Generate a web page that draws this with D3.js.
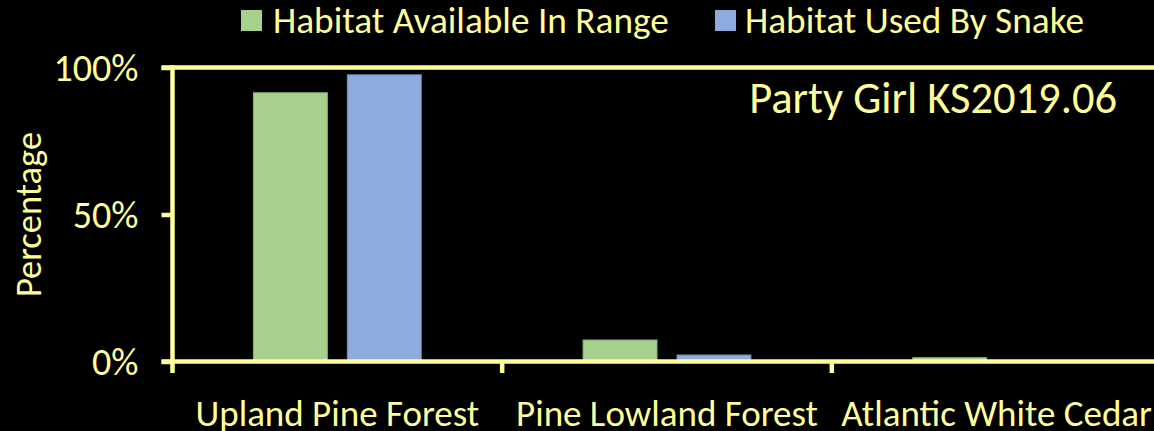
<!DOCTYPE html>
<html>
<head>
<meta charset="utf-8">
<script src="https://cdn.jsdelivr.net/npm/d3@7"></script>
<style>
  html, body { margin: 0; padding: 0; background: #000; }
  svg { display: block; }
  text { font-family: Carlito, Calibri, Lato, "Open Sans", sans-serif; fill: #FFFF99; }
</style>
</head>
<body>
<svg id="chart" width="1154" height="431"></svg>
<script>
// Habitat composition for one tracked snake
const categories = ["Upland Pine Forest", "Pine Lowland Forest", "Atlantic White Cedar"];
const seriesNames = ["Habitat Available In Range", "Habitat Used By Snake"];
const availableInRange = [0.914, 0.073, 0.013];
const usedBySnake = [0.975, 0.022, 0.0];
const yTicks = [0, 0.5, 1];
const chartTitle = "Party Girl KS2019.06";
const yLabel = "Percentage";

const colors = ["#A9D18E", "#8FAADC"];
const strokes = ["#8DB375", "#7890BE"];
const ink = "#FFFF99";

const svg = d3.select("#chart");
const W = 1154, H = 431;
const plot = { left: 172.5, right: 1161.5, top: 67.5, bottom: 361.5 };

const x0 = d3.scaleBand().domain(categories).range([plot.left, plot.right]);
const x1 = d3.scaleBand().domain(seriesNames).range([0, x0.bandwidth()])
  .paddingInner(0.2128).paddingOuter(0.862);
const y = d3.scaleLinear().domain([0, 1]).range([plot.bottom, plot.top]);

const rows = categories.map((c, i) => ({
  category: c,
  values: [availableInRange[i], usedBySnake[i]]
}));

// bars
const groups = svg.append("g").selectAll("g").data(rows).join("g")
  .attr("transform", d => `translate(${x0(d.category)},0)`);
groups.selectAll("rect")
  .data(d => d.values.map((v, k) => ({ name: seriesNames[k], value: v, k })))
  .join("rect")
  .filter(d => d.value > 0)
  .attr("x", d => x1(d.name))
  .attr("width", x1.bandwidth())
  .attr("y", d => y(d.value))
  .attr("height", d => y(0) - y(d.value))
  .attr("fill", d => colors[d.k])
  .attr("stroke", d => strokes[d.k])
  .attr("stroke-width", 1);

// y axis
const yAxis = d3.axisLeft(y).tickValues(yTicks).tickFormat(d3.format(".0%")).tickSize(11).tickPadding(23);
const gy = svg.append("g").attr("transform", `translate(${plot.left},0)`).call(yAxis);
gy.select(".domain").remove();
gy.selectAll(".tick line").attr("stroke", ink).attr("stroke-width", 4.5);
gy.selectAll(".tick text").attr("fill", ink).style("font-size", "38px").attr("dy", "0.34em");

// left spine, extended down to match the category ticks
svg.append("line")
  .attr("x1", plot.left).attr("x2", plot.left)
  .attr("y1", plot.top - 2).attr("y2", plot.bottom + 11.5)
  .attr("stroke", ink).attr("stroke-width", 4.5);

// top border
svg.append("line")
  .attr("x1", plot.left - 11).attr("x2", W + 10)
  .attr("y1", plot.top).attr("y2", plot.top)
  .attr("stroke", ink).attr("stroke-width", 4.5);

// x axis: ticks between categories
const xAxis = d3.axisBottom(x0).tickSize(0).tickPadding(0);
const gx = svg.append("g").attr("transform", `translate(0,${plot.bottom})`).call(xAxis);
gx.select(".domain").remove();
gx.selectAll(".tick text").attr("fill", ink).style("font-size", "37px")
  .attr("y", 0).attr("dy", 0).attr("transform", "translate(0,64)");

svg.append("line")
  .attr("x1", plot.left - 11).attr("x2", W + 10)
  .attr("y1", plot.bottom).attr("y2", plot.bottom)
  .attr("stroke", ink).attr("stroke-width", 4.5);

const boundaries = categories.map(c => x0(c) + x0.bandwidth()).slice(0, -1);
svg.append("g").selectAll("line").data(boundaries).join("line")
  .attr("x1", d => d).attr("x2", d => d)
  .attr("y1", plot.bottom).attr("y2", plot.bottom + 11.5)
  .attr("stroke", ink).attr("stroke-width", 4.5);

// y label
svg.append("text")
  .attr("transform", `translate(41,${(plot.top + plot.bottom) / 2}) rotate(-90)`)
  .attr("text-anchor", "middle")
  .style("font-size", "36.5px")
  .text(yLabel);

// title inside plot
svg.append("text")
  .attr("x", 1117).attr("y", 113)
  .attr("text-anchor", "end")
  .style("font-size", "44.5px")
  .text(chartTitle);

// legend
const legendPos = [{ sx: 241, tx: 273 }, { sx: 715, tx: 745 }];
const lg = svg.append("g").selectAll("g").data(seriesNames).join("g");
lg.append("rect")
  .attr("x", (d, i) => legendPos[i].sx).attr("y", 10)
  .attr("width", 21).attr("height", 21)
  .attr("fill", (d, i) => colors[i]);
lg.append("text")
  .attr("x", (d, i) => legendPos[i].tx).attr("y", 33)
  .style("font-size", "37.3px")
  .text(d => d);
</script>
</body>
</html>
